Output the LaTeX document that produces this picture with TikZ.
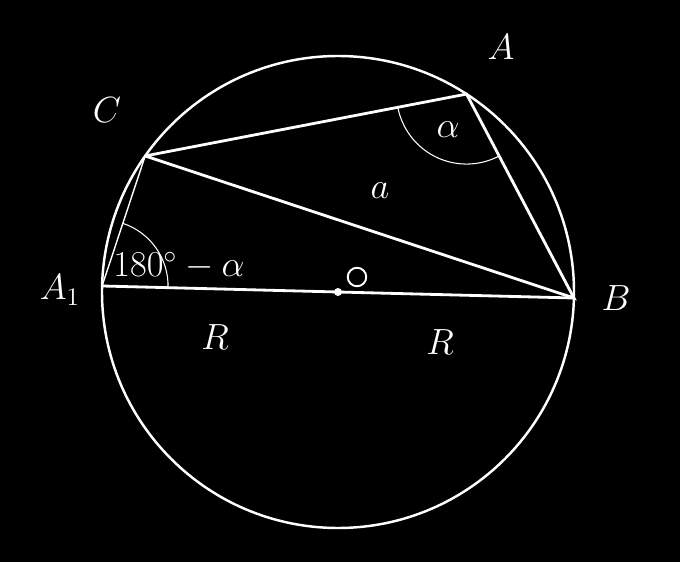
\documentclass[tikz,border=0pt]{standalone}
\usepackage{amsmath}
\usepackage{tikz}
\usetikzlibrary{angles,calc}

\begin{document}
\begin{tikzpicture}[x=0.02cm,y=0.02cm,white,
  lbl/.style={font=\fontsize{20}{24}\selectfont,text=white},
  side/.style={line width=1.6pt}]

\fill [black] (0,0) rectangle (680,562);
\useasboundingbox (0,0) rectangle (680,562);

\coordinate (O) at (338,270);
\coordinate (B) at ($(O)+(-1.46:236)$);
\coordinate (A1) at ($(O)+(178.54:236)$);
\coordinate (A) at ($(O)+(57:236)$);
\coordinate (C) at ($(O)+(144.8:236)$);

\draw [line width=1.4pt] (O) circle (236);

\draw [side] (A1) -- (B);
\draw [side] (C) -- (A) -- (B) -- (C);
\draw [line width=0.8pt] (A1) -- (C);

\pic [draw,line width=0.6pt,angle radius=1.4cm] {angle = C--A--B};
\pic [draw,line width=0.6pt,angle radius=1.32cm] {angle = B--A1--C};

\fill (O) circle (4);
\node [draw,circle,line width=1.1pt,minimum size=0.37cm,inner sep=0pt] (ringO) at (357,285) {};

\node [lbl] (lA) at (501,515) {$A$};
\node [lbl] (lC) at (107,452) {$C$};
\node [lbl] (lA1) at (60,272) {$A_1$};
\node [lbl] (lB) at (616,264) {$B$};
\node [lbl] (la) at (380,371) {$a$};
\node [lbl] (lalpha) at (448,432) {$\alpha$};
\node [lbl] (lang) at (179,296) {$180^\circ-\alpha$};
\node [lbl] (lR1) at (215,225) {$R$};
\node [lbl] (lR2) at (440,220) {$R$};
\end{tikzpicture}
\end{document}
